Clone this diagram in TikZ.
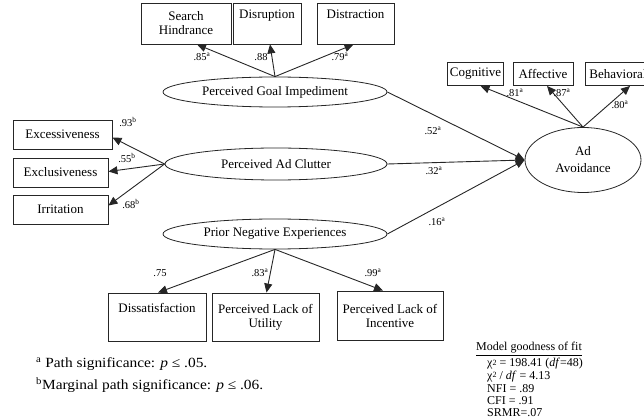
\documentclass[tikz,border=0pt]{standalone}
\usepackage{fontspec}
\setmainfont{Liberation Serif}
\newfontfamily\notefont[FakeStretch=1.1]{Liberation Serif}
\usetikzlibrary{arrows.meta,shapes.geometric}
\newcommand\supa{\textsuperscript{a}}
\newcommand\supb{\textsuperscript{b}}
\newcommand\chisq{χ\raisebox{0.3ex}{\fontsize{8}{8}\selectfont 2}}
\begin{document}
\begin{tikzpicture}[x=1pt,y=-1pt,
  box/.style={draw=black!85, line width=0.9pt, rectangle, align=center,
    font=\fontsize{13}{14}\selectfont, inner sep=2pt},
  latent/.style={draw=black!85, line width=0.8pt, ellipse, inner sep=0pt,
    align=center, font=\fontsize{13}{14}\selectfont},
  pathline/.style={draw=black!85, line width=0.9pt,
    -{Triangle[length=9pt,width=8pt]}},
  coef/.style={font=\fontsize{10.5}{11}\selectfont, inner sep=0pt},
  note/.style={anchor=west, inner sep=0pt, font=\notefont\fontsize{14}{15}\selectfont},
  fit/.style={anchor=west, inner sep=0pt, font=\fontsize{12}{12}\selectfont}]
\useasboundingbox (0,0) rectangle (644,419);

% indicator boxes, top
\node[box, minimum width=90pt, minimum height=41pt] (sh) at (186,23.5) {Search\\Hindrance};
\node[box, minimum width=68pt, minimum height=41pt] (dis) at (267,23.5) {Disruption\\\strut};
\node[box, minimum width=77pt, minimum height=41pt] (dtr) at (355.5,23.5) {Distraction\\\strut};

% indicator boxes, right
\node[box, minimum width=55pt, minimum height=23pt] (cog) at (475.5,74) {Cognitive};
\node[box, minimum width=60pt, minimum height=23pt] (aff) at (543,74) {Affective};
\node[box, minimum width=66pt, minimum height=23pt] (beh) at (618,74) {Behavioral};

% indicator boxes, left
\node[box, minimum width=99pt, minimum height=29pt] (exc) at (62.5,134.5) {Excessiveness};
\node[box, minimum width=95pt, minimum height=29pt] (exl) at (60.5,172.5) {Exclusiveness};
\node[box, minimum width=95pt, minimum height=29pt] (irr) at (60.5,209.5) {Irritation};

% indicator boxes, bottom
\node[box, minimum width=98pt, minimum height=48pt] (dsf) at (157,317) {Dissatisfaction\\\strut};
\node[box, minimum width=107pt, minimum height=48pt] (utl) at (265.5,317) {Perceived Lack of\\Utility};
\node[box, minimum width=106pt, minimum height=49pt] (inc) at (390,315.5) {Perceived Lack of\\Incentive};

% latent variables
\node[latent, minimum width=224pt, minimum height=30pt] (goal) at (275,92) {Perceived Goal Impediment};
\node[latent, minimum width=222pt, minimum height=32pt] (clut) at (276,164) {Perceived Ad Clutter};
\node[latent, minimum width=224pt, minimum height=30pt] (prior) at (275,234) {Prior Negative Experiences};
\node[latent, minimum width=116pt, minimum height=65pt] (ad) at (583,160) {Ad\\[3pt]Avoidance};

% measurement paths
\draw[pathline] (goal.north) -- ([xshift=11pt]sh.south);
\draw[pathline] (goal.north) -- ([xshift=3pt]dis.south);
\draw[pathline] (goal.north) -- ([xshift=-2pt]dtr.south);

\draw[pathline] (ad.north) -- ([xshift=5pt]cog.south);
\draw[pathline] (ad.north) -- ([xshift=4pt]aff.south);
\draw[pathline] (ad.north) -- ([xshift=12pt]beh.south);

\draw[pathline] (clut.west) -- ([yshift=-3pt]exc.east);
\draw[pathline] (clut.west) -- ([yshift=1pt]exl.east);
\draw[pathline] (clut.west) -- ([yshift=4pt]irr.east);

\draw[pathline] (prior.south) -- ([xshift=1pt]dsf.north);
\draw[pathline] (prior.south) -- ([xshift=1pt]utl.north);
\draw[pathline] (prior.south) -- ([xshift=-7pt]inc.north);

% structural paths
\draw[pathline] (goal.east) -- (ad.west);
\draw[pathline] (clut.east) -- (ad.west);
\draw[pathline] (prior.east) -- (ad.west);

% coefficients
\node[coef] (c1) at (202,57) {.85\supa};
\node[coef] (c2) at (261,57) {.88};
\node[coef] (c3) at (340,57) {.79\supa};
\node[coef] (c4) at (515,93) {.81\supa};
\node[coef] (c5) at (562,93) {.87\supa};
\node[coef] (c6) at (620,105) {.80\supa};
\node[coef] (c7) at (128,122) {.93\supb};
\node[coef] (c8) at (127,158) {.55\supb};
\node[coef] (c9) at (131,204) {.68\supb};
\node[coef] (c10) at (433,131) {.52\supa};
\node[coef] (c11) at (434,171) {.32\supa};
\node[coef] (c12) at (437,222) {.16\supa};
\node[coef] (c13) at (160,273) {.75};
\node[coef] (c14) at (260,273) {.83\supa};
\node[coef] (c15) at (373,273) {.99\supa};

% footnotes
\node[note] (fa) at (36,364) {\textsuperscript{a} Path significance: \textit{p} ≤ .05.};
\node[note] (fb) at (36,385) {\textsuperscript{b}Marginal path significance: \textit{p} ≤ .06.};

% model fit
\node[fit] (ft) at (476,349) {\underline{Model goodness of fit}};
\node[fit] (f1) at (487,364) {\chisq{} = 198.41 (\textit{df}=48)};
\node[fit] (f2) at (487,376.5) {\chisq{} / \textit{df} = 4.13};
\node[fit] (f3) at (487,389) {NFI = .89};
\node[fit] (f4) at (487,401) {CFI = .91};
\node[fit] (f5) at (487,413) {SRMR=.07};
\end{tikzpicture}
\end{document}
